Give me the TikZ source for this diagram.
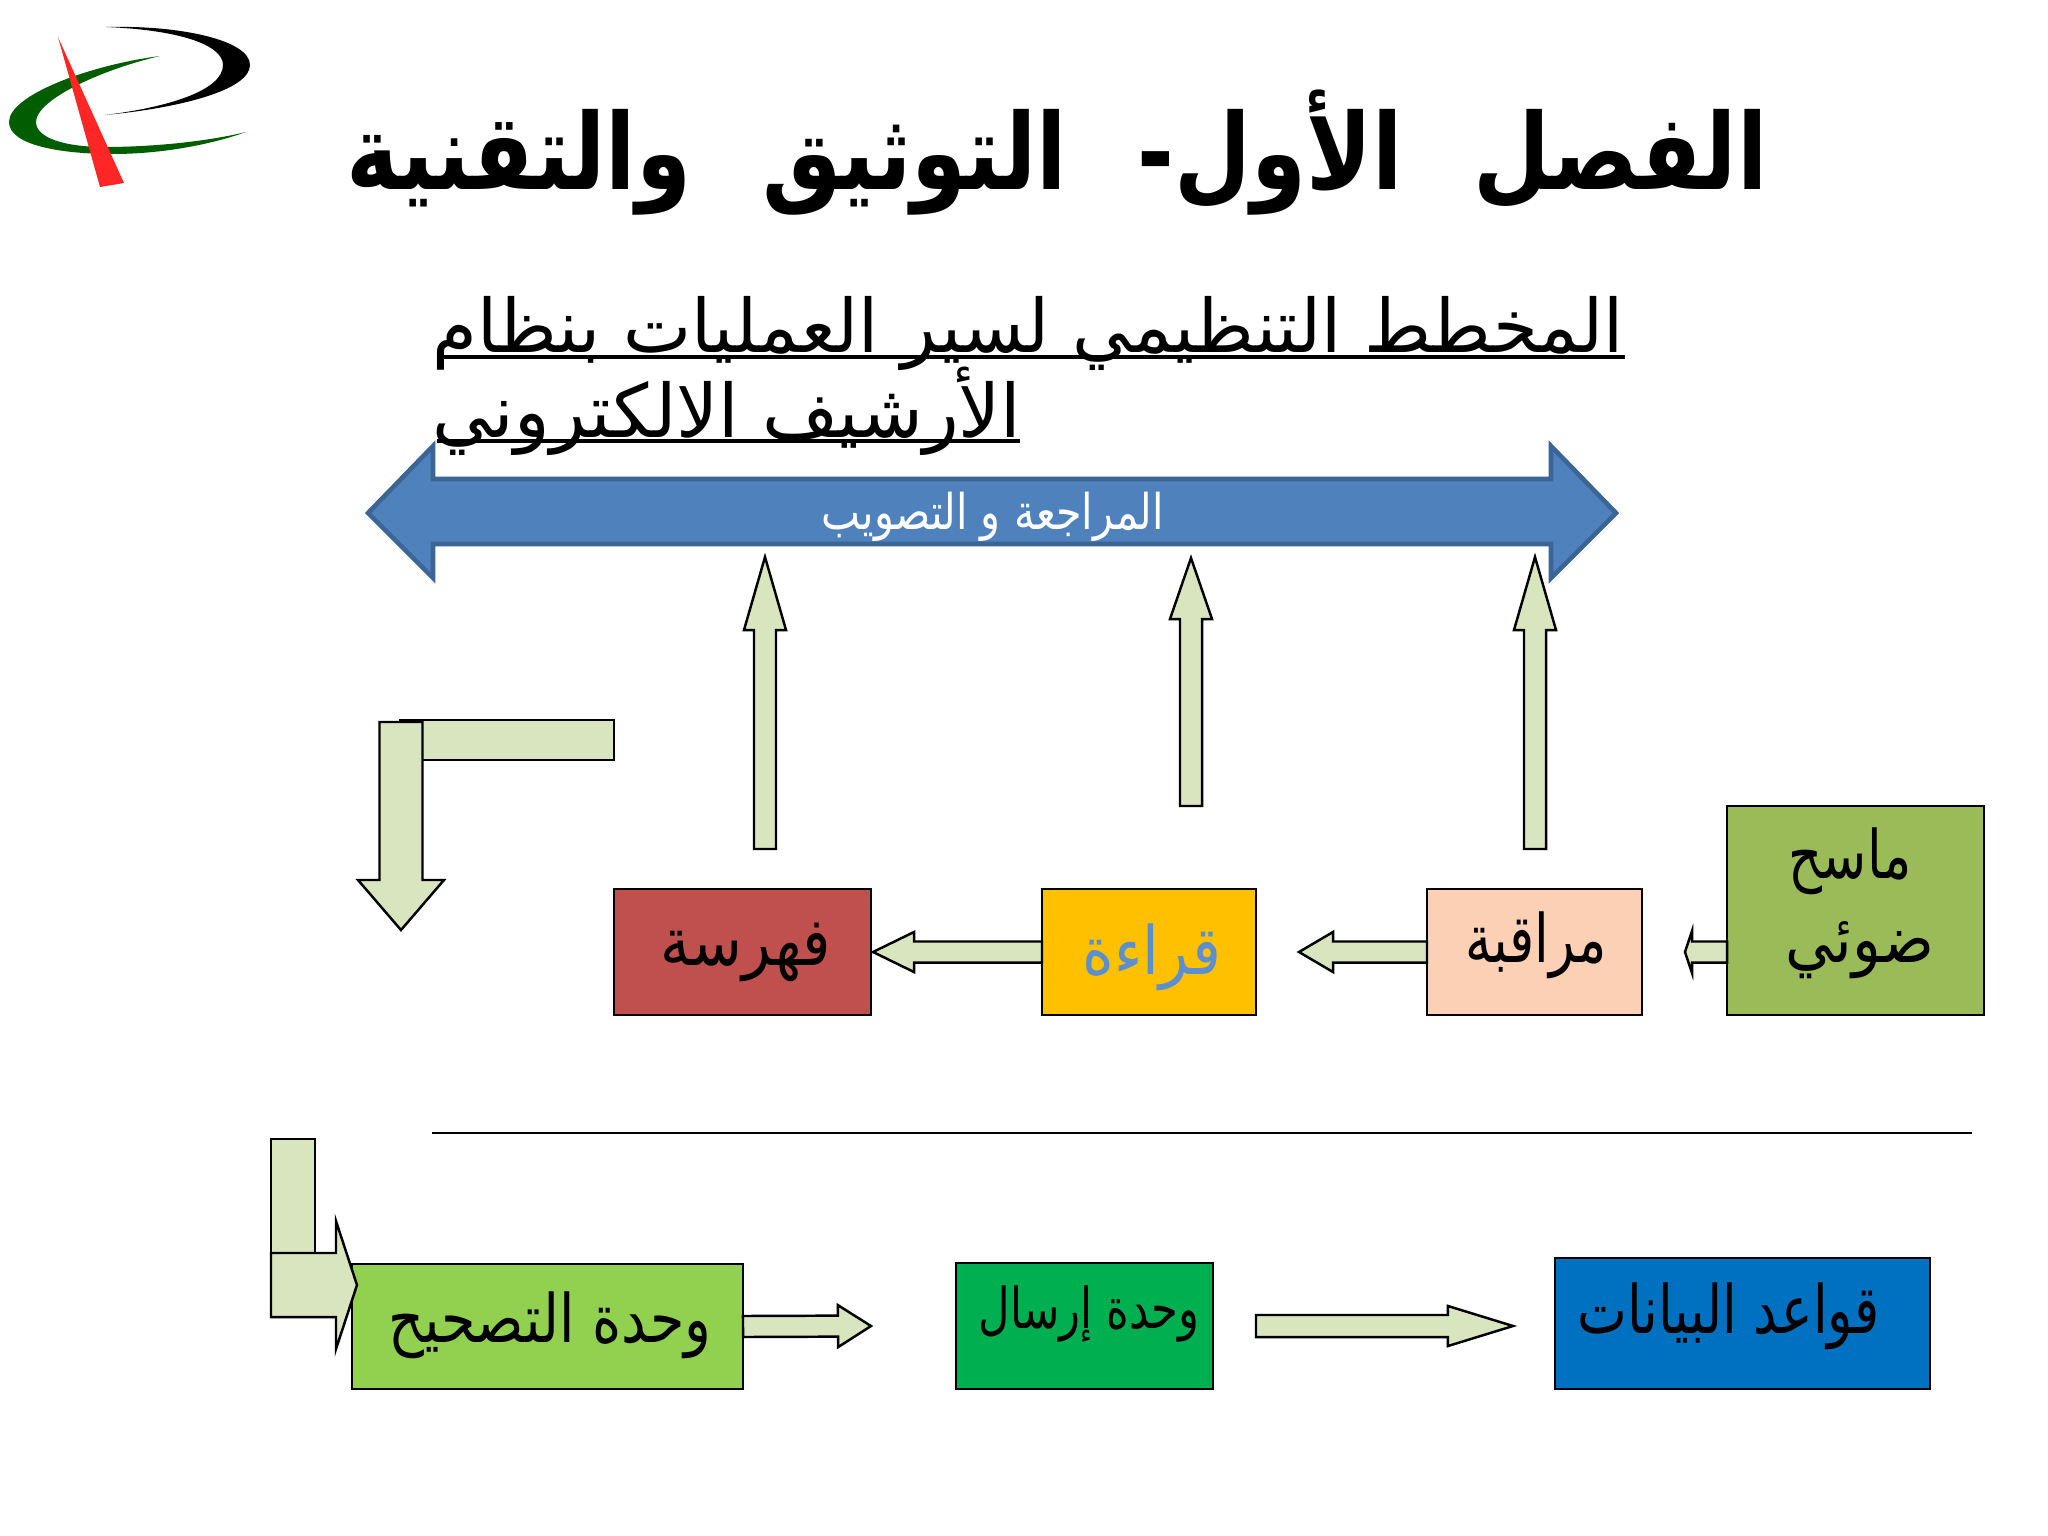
\documentclass[tikz,border=0pt]{standalone}
\usepackage{fontspec}
\usepackage{graphicx}
\usetikzlibrary{calc}
\TeXXeTstate=1
\newfontfamily\arabicfont[Script=Arabic]{DejaVu Sans}
\newcommand\artext[2]{\scalebox{#1}[1]{\arabicfont #2}}
\definecolor{arrowfill}{HTML}{D9E5BF}
\definecolor{bigfill}{HTML}{4F81BD}
\definecolor{bigline}{HTML}{3A6595}
\definecolor{bigred}{HTML}{C0504D}
\definecolor{biggold}{HTML}{FFC000}
\definecolor{bigpeach}{HTML}{FBD0B5}
\definecolor{bigolive}{HTML}{9BBB59}
\definecolor{qirtext}{HTML}{5B8FD0}
\definecolor{boxgreen}{HTML}{92D050}
\definecolor{sendgreen}{HTML}{00B050}
\definecolor{dbblue}{HTML}{0070C0}
\definecolor{logogreen}{HTML}{005E00}
\tikzset{
  arrowshape/.style={draw=black,line width=0.7pt,fill=arrowfill,line join=miter},
  procbox/.style={draw=black,line width=0.7pt,inner sep=0pt,outer sep=0pt},
  boxtext/.style={inner sep=0pt,text=black,font=\fontsize{19}{23}\selectfont},
  titletext/.style={inner sep=0pt,font=\fontsize{30}{36}\selectfont\bfseries},
  subtext/.style={inner sep=0pt,font=\fontsize{21}{25}\selectfont},
}
\newcommand\blockarrow[5]{%
  \coordinate (headbase) at ($(#2)!#5!(#1)$);
  \draw[arrowshape] ($(#1)!#3!90:(#2)$) -- ($(headbase)!#3!90:(#2)$) -- ($(headbase)!#4!90:(#2)$) -- (#2)
    -- ($(headbase)!#4!-90:(#2)$) -- ($(headbase)!#3!-90:(#2)$) -- ($(#1)!#3!-90:(#2)$) -- cycle;
}
\newcommand\boxat[6]{% name, x1,y1,x2,y2, fill
  \pgfmathsetmacro\bw{(#4-#2)*0.01}\pgfmathsetmacro\bh{(#5-#3)*0.01}
  \node[procbox,fill=#6,minimum width=\bw cm,minimum height=\bh cm] (#1) at ({(#2+#4)/2},{(#3+#5)/2}) {};
}
\begin{document}
\begin{tikzpicture}[x=0.01cm,y=-0.01cm]
\useasboundingbox (0,0) rectangle (2048,1536);
\fill[white] (0,0) rectangle (2048,1536);

% logo
\fill[black] (106,27) .. controls (180,25) and (250,40) .. (250,65) .. controls (250,90) and (180,108) .. (105,115)
  .. controls (170,107) and (223,90) .. (223,65) .. controls (223,45) and (180,30) .. (106,27) -- cycle;
\fill[logogreen] (160,56) .. controls (90,65) and (9,95) .. (9,122) .. controls (9,145) and (60,154) .. (113,154)
  .. controls (160,154) and (210,145) .. (246,132) .. controls (205,142) and (150,147) .. (105,147)
  .. controls (65,147) and (36,138) .. (36,122) .. controls (36,100) and (100,70) .. (160,56) -- cycle;
\fill[red!85!white] (58,37) -- (124,183) -- (100,187) -- cycle;

% title
\node[titletext] (title) at (1057,153) {\artext{0.84}{\spaceskip=24pt\relax\beginR الفصل الأول- التوثيق والتقنية\endR}};
\node[subtext] (subA) at (1028,333) {\artext{0.98}{\beginR المخطط التنظيمي لسير العمليات بنظام\endR}};
\node[subtext] (subB) at (727,411) {\artext{1.0}{\beginR الأرشيف الالكتروني\endR}};
\coordinate (ulAl) at (437,357); \coordinate (ulAr) at (1625,357);
\coordinate (ulBl) at (437,441); \coordinate (ulBr) at (1020,441);
\draw[line width=1.2pt] (ulAl) -- (ulAr);
\draw[line width=1.2pt] (ulBl) -- (ulBr);

% big double arrow
\draw[draw=bigline,fill=bigfill,line width=1.3pt,line join=miter]
  (368,513) -- (433,446) -- (433,479) -- (1551,479) -- (1551,446) -- (1616,513) -- (1551,578) -- (1551,544) -- (433,544) -- (433,578) -- cycle;
\node[inner sep=0pt,text=white,font=\fontsize{14}{17}\selectfont] (review) at (993,517) {\artext{0.84}{\beginR المراجعة و التصويب\endR}};

% up arrows
\coordinate (uAs) at (765,849); \coordinate (uAe) at (765,557);
\coordinate (uBs) at (1191,806); \coordinate (uBe) at (1191,558);
\coordinate (uCs) at (1535,849); \coordinate (uCe) at (1535,557);
\blockarrow{uAs}{uAe}{0.11cm}{0.21cm}{0.73cm}
\blockarrow{uBs}{uBe}{0.11cm}{0.21cm}{0.61cm}
\blockarrow{uCs}{uCe}{0.11cm}{0.21cm}{0.73cm}

% top bent
\boxat{bentH}{400}{720}{614}{760}{arrowfill}
\coordinate (dS) at (401,722); \coordinate (dE) at (401,930);
\blockarrow{dS}{dE}{0.215cm}{0.43cm}{0.50cm}

% boxes row 1
\boxat{fah}{614}{889}{871}{1015}{bigred}
\boxat{qir}{1042}{889}{1256}{1015}{biggold}
\boxat{mur}{1427}{889}{1642}{1015}{bigpeach}
\boxat{mas}{1727}{806}{1984}{1015}{bigolive}
\node[boxtext] (fahT) at (746,952) {\artext{0.89}{\beginR فهرسة\endR}};
\node[boxtext,text=qirtext] (qirT) at (1152,957) {\artext{0.905}{\beginR قراءة\endR}};
\node[boxtext] (murT) at (1536,945) {\artext{0.79}{\beginR مراقبة\endR}};
\node[boxtext] (masA) at (1850,861) {\artext{0.79}{\beginR ماسح\endR}};
\node[boxtext] (masB) at (1860,950) {\artext{0.895}{\beginR ضوئي\endR}};

\coordinate (hAs) at (qir.west); \coordinate (hAe) at (873,952);
\blockarrow{hAs}{hAe}{0.105cm}{0.2cm}{0.41cm}
\coordinate (hBs) at (mur.west); \coordinate (hBe) at (1299,952);
\blockarrow{hBs}{hBe}{0.105cm}{0.2cm}{0.34cm}
\coordinate (hCs) at (1727,952); \coordinate (hCe) at (1685,952);
\blockarrow{hCs}{hCe}{0.105cm}{0.21cm}{0.07cm}

% rule
\coordinate (rl) at (432,1133); \coordinate (rr) at (1972,1133);
\draw[line width=0.6pt] (rl) -- (rr);

% bottom row
\boxat{bentV}{271}{1139}{315}{1253}{arrowfill}
\boxat{cor}{352}{1264}{743}{1389}{boxgreen}
\coordinate (bS) at (271,1285); \coordinate (bE) at (357,1285);
\blockarrow{bS}{bE}{0.32cm}{0.64cm}{0.21cm}
\boxat{snd}{956}{1263}{1213}{1389}{sendgreen}
\boxat{dbs}{1555}{1258}{1930}{1389}{dbblue}
\node[boxtext] (corT) at (550,1325) {\artext{0.833}{\beginR وحدة التصحيح\endR}};
\node[boxtext,font=\fontsize{16}{19}\selectfont] (sndT) at (1089,1314) {\artext{0.77}{\beginR وحدة إرسال\endR}};
\node[boxtext] (dbsT) at (1729,1316) {\artext{0.79}{\beginR قواعد البيانات\endR}};
\coordinate (aS) at (cor.east); \coordinate (aE) at (871,1326);
\blockarrow{aS}{aE}{0.105cm}{0.21cm}{0.33cm}
\coordinate (cS) at (1256,1326); \coordinate (cE) at (1513,1326);
\blockarrow{cS}{cE}{0.11cm}{0.2cm}{0.65cm}
\end{tikzpicture}
\end{document}
